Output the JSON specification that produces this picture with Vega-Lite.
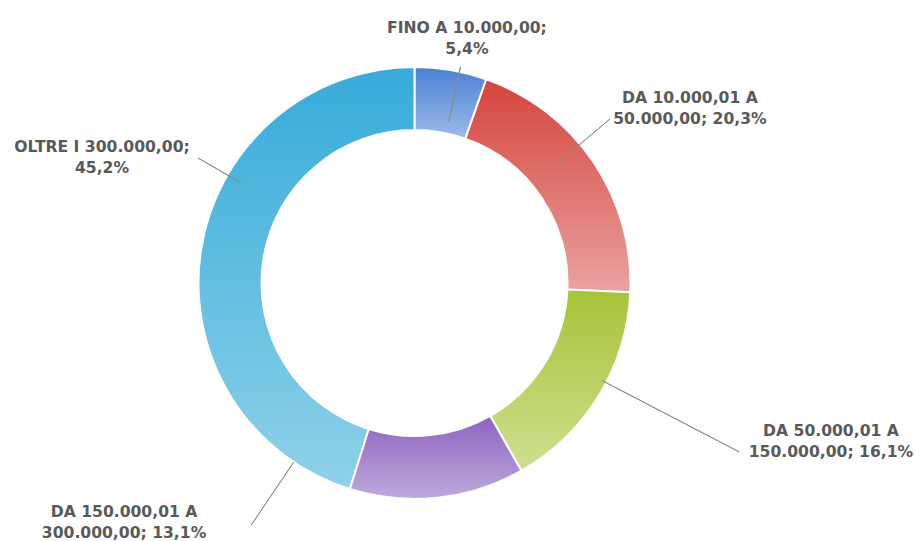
{
  "$schema": "https://vega.github.io/schema/vega-lite/v6.json",
  "width": 829,
  "height": 516,
  "autosize": "none",
  "padding": {"left": 0, "top": 25, "right": 86, "bottom": 0},
  "background": "white",
  "config": {"view": {"stroke": null}},
  "data": {
    "values": [
      {"k": 1, "cat": "FINO A 10.000,00", "value": 5.4, "label": "FINO A 10.000,00;\n5,4%"},
      {"k": 2, "cat": "DA 10.000,01 A 50.000,00", "value": 20.3, "label": "DA 10.000,01 A\n50.000,00; 20,3%"},
      {"k": 3, "cat": "DA 50.000,01 A 150.000,00", "value": 16.1, "label": "DA 50.000,01 A\n150.000,00; 16,1%"},
      {"k": 4, "cat": "DA 150.000,01 A 300.000,00", "value": 13.1, "label": "DA 150.000,01 A\n300.000,00; 13,1%"},
      {"k": 5, "cat": "OLTRE I 300.000,00", "value": 45.2, "label": "OLTRE I 300.000,00;\n45,2%"}
    ]
  },
  "encoding": {
    "theta": {"field": "value", "type": "quantitative", "stack": true},
    "order": {"field": "k", "type": "quantitative"}
  },
  "layer": [
    {
      "mark": {"type": "arc", "innerRadius": 153, "outerRadius": 216, "stroke": "white", "strokeWidth": 2},
      "encoding": {
        "fill": {
          "condition": [
            {"test": "datum.k === 1", "value": {"gradient": "linear", "x1": 0, "y1": 0, "x2": 0, "y2": 1, "stops": [{"offset": 0, "color": "#4a80d3"}, {"offset": 1, "color": "#9cbce8"}]}},
            {"test": "datum.k === 2", "value": {"gradient": "linear", "x1": 0, "y1": 0, "x2": 0, "y2": 1, "stops": [{"offset": 0, "color": "#d5443d"}, {"offset": 1, "color": "#e9a3a0"}]}},
            {"test": "datum.k === 3", "value": {"gradient": "linear", "x1": 0, "y1": 0, "x2": 0, "y2": 1, "stops": [{"offset": 0, "color": "#a7c337"}, {"offset": 1, "color": "#cfdf90"}]}},
            {"test": "datum.k === 4", "value": {"gradient": "linear", "x1": 0, "y1": 0, "x2": 0, "y2": 1, "stops": [{"offset": 0, "color": "#8e62c0"}, {"offset": 1, "color": "#bfaadc"}]}}
          ],
          "value": {"gradient": "linear", "x1": 0, "y1": 0, "x2": 0, "y2": 1, "stops": [{"offset": 0, "color": "#36abd9"}, {"offset": 1, "color": "#8fd1e9"}]}
        }
      }
    },
    {
      "mark": {"type": "arc", "padAngle": 3.14, "innerRadius": 165, "outerRadius": 221, "thetaOffset": 0.04, "theta2Offset": 0.04, "filled": false, "stroke": "#8a8a8a", "strokeWidth": 1},
      "encoding": {"strokeOpacity": {"condition": {"test": "datum.k === 1", "value": 0.9}, "value": 0}}
    },
    {
      "mark": {"type": "arc", "padAngle": 3.14, "innerRadius": 190, "outerRadius": 255, "thetaOffset": -0.1033, "theta2Offset": -0.1033, "filled": false, "stroke": "#8a8a8a", "strokeWidth": 1},
      "encoding": {"strokeOpacity": {"condition": {"test": "datum.k === 2", "value": 0.9}, "value": 0}}
    },
    {
      "mark": {"type": "arc", "padAngle": 3.14, "innerRadius": 212, "outerRadius": 366, "thetaOffset": -0.068, "theta2Offset": -0.068, "filled": false, "stroke": "#8a8a8a", "strokeWidth": 1},
      "encoding": {"strokeOpacity": {"condition": {"test": "datum.k === 3", "value": 0.9}, "value": 0}}
    },
    {
      "mark": {"type": "arc", "padAngle": 3.14, "innerRadius": 216, "outerRadius": 292, "thetaOffset": 0.7, "theta2Offset": 0.7, "filled": false, "stroke": "#8a8a8a", "strokeWidth": 1},
      "encoding": {"strokeOpacity": {"condition": {"test": "datum.k === 4", "value": 0.9}, "value": 0}}
    },
    {
      "mark": {"type": "arc", "padAngle": 3.14, "innerRadius": 200, "outerRadius": 250, "thetaOffset": 0.3714, "theta2Offset": 0.3714, "filled": false, "stroke": "#8a8a8a", "strokeWidth": 1},
      "encoding": {"strokeOpacity": {"condition": {"test": "datum.k === 5", "value": 0.9}, "value": 0}}
    },
    {
      "mark": {"type": "text", "radius": 250, "dx": 10.3, "dy": -8.6, "font": "DejaVu Sans", "fontWeight": "bold", "fontSize": 15.6, "fill": "#595959", "align": "center", "baseline": "middle", "lineBreak": "\n", "lineHeight": 21},
      "encoding": {"text": {"condition": {"test": "datum.k === 1", "field": "label"}, "value": ""}}
    },
    {
      "mark": {"type": "text", "radius": 326, "dx": 5.4, "dy": -2.8, "font": "DejaVu Sans", "fontWeight": "bold", "fontSize": 15.6, "fill": "#595959", "align": "center", "baseline": "middle", "lineBreak": "\n", "lineHeight": 21},
      "encoding": {"text": {"condition": {"test": "datum.k === 2", "field": "label"}, "value": ""}}
    },
    {
      "mark": {"type": "text", "radius": 448, "dx": 34, "dy": -84.8, "font": "DejaVu Sans", "fontWeight": "bold", "fontSize": 15.6, "fill": "#595959", "align": "center", "baseline": "middle", "lineBreak": "\n", "lineHeight": 21},
      "encoding": {"text": {"condition": {"test": "datum.k === 3", "field": "label"}, "value": ""}}
    },
    {
      "mark": {"type": "text", "radius": 376, "dx": -330.5, "dy": -144.9, "font": "DejaVu Sans", "fontWeight": "bold", "fontSize": 15.6, "fill": "#595959", "align": "center", "baseline": "middle", "lineBreak": "\n", "lineHeight": 21},
      "encoding": {"text": {"condition": {"test": "datum.k === 4", "field": "label"}, "value": ""}}
    },
    {
      "mark": {"type": "text", "radius": 337, "dx": 20.6, "dy": -85.4, "font": "DejaVu Sans", "fontWeight": "bold", "fontSize": 15.6, "fill": "#595959", "align": "center", "baseline": "middle", "lineBreak": "\n", "lineHeight": 21},
      "encoding": {"text": {"condition": {"test": "datum.k === 5", "field": "label"}, "value": ""}}
    }
  ]
}
